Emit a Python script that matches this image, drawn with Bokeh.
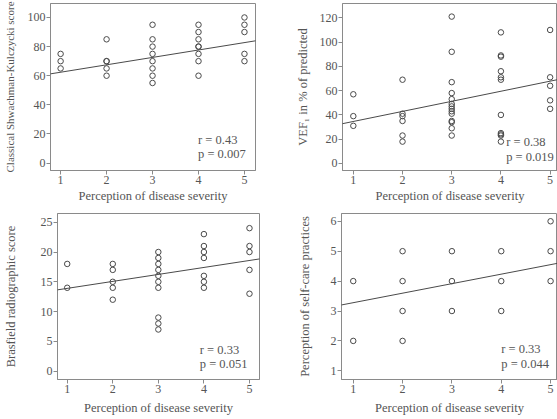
from bokeh.plotting import figure
from bokeh.layouts import column, row
from bokeh.models import Range1d, FixedTicker, Slope, Label
from bokeh.embed import file_html
from bokeh.resources import INLINE

# Perception of disease severity (1-5) paired with each outcome
sk_x = [1, 1, 1, 2, 2, 2, 2, 2, 3, 3, 3, 3, 3, 3, 3, 3, 4, 4, 4, 4, 4, 4, 4, 4, 5, 5, 5, 5, 5]
sk_y = [75, 70, 65, 85, 70, 70, 65, 60, 95, 85, 80, 75, 70, 65, 60, 55, 95, 90, 85, 80, 80, 75, 70, 60, 100, 95, 90, 75, 70]

vef_x = [1, 1, 1,
         2, 2, 2, 2, 2, 2,
         3, 3, 3, 3, 3, 3, 3, 3, 3, 3, 3, 3, 3, 3,
         4, 4, 4, 4, 4, 4, 4, 4, 4, 4, 4,
         5, 5, 5, 5, 5]
vef_y = [57, 39, 31,
         69, 41, 39, 35, 23, 18,
         121, 92, 67, 58, 53, 49, 47, 45, 43, 41, 35, 34, 29, 23,
         108, 89, 88, 76, 71, 69, 40, 25, 24, 23, 18,
         110, 71, 64, 52, 45]

bras_x = [1, 1, 2, 2, 2, 2, 2, 3, 3, 3, 3, 3, 3, 3, 3, 3, 3, 4, 4, 4, 4, 4, 4, 4, 5, 5, 5, 5, 5]
bras_y = [18, 14, 18, 17, 15, 14, 12, 20, 19, 18, 17, 16, 15, 14, 9, 8, 7, 23, 21, 20, 19, 16, 15, 14, 24, 21, 20, 17, 13]

self_x = [1, 1, 2, 2, 2, 2, 3, 3, 3, 4, 4, 4, 5, 5, 5]
self_y = [4, 2, 5, 4, 3, 2, 5, 4, 3, 5, 4, 3, 6, 5, 4]

# fitted regression lines (intercept, slope) and correlation statistics
sk_fit, vef_fit, bras_fit, self_fit = (57.3, 5.09), (26.3, 8.3), (12.73, 1.17), (2.96, 0.318)
sk_stats = ["r = 0.43", "p = 0.007"]
vef_stats = ["r = 0.38", "p = 0.019"]
bras_stats = ["r = 0.33", "p = 0.051"]
self_stats = ["r = 0.33", "p = 0.044"]

x_ticks = [1, 2, 3, 4, 5]
sk_ticks = [0, 20, 40, 60, 80, 100]
vef_ticks = [0, 20, 40, 60, 80, 100, 120]
bras_ticks = [0, 5, 10, 15, 20, 25]
self_ticks = [1, 2, 3, 4, 5, 6]

FONT = "Liberation Serif"
TXT = "#555555"
INK = "#4a4a4a"
FRAME = "#8a8a8a"


def panel(xs, ys, fit, stats, yticks, ylabel, *, w, h, borders, xr, yr,
          ystand, xstand, stat_pos, ylabel_size="12.5px"):
    left, right, top, bottom = borders
    p = figure(width=w, height=h, output_backend="svg", toolbar_location=None,
               x_range=Range1d(*xr), y_range=Range1d(*yr),
               min_border_left=left, min_border_right=right,
               min_border_top=top, min_border_bottom=bottom)
    p.grid.visible = False
    p.outline_line_color = FRAME
    p.outline_line_width = 1
    p.background_fill_color = "white"
    p.border_fill_color = "white"
    for ax in (p.xaxis[0], p.yaxis[0]):
        ax.axis_line_color = FRAME
        ax.major_tick_line_color = FRAME
        ax.major_tick_out = 4
        ax.major_tick_in = 0
        ax.minor_tick_line_color = None
        ax.major_label_text_font = FONT
        ax.major_label_text_font_size = "12px"
        ax.major_label_text_color = TXT
        ax.major_label_standoff = 1
        ax.axis_label_text_font = FONT
        ax.axis_label_text_font_size = "12.5px"
        ax.axis_label_text_font_style = "normal"
        ax.axis_label_text_color = TXT
    p.yaxis.axis_label_text_font_size = ylabel_size
    p.xaxis.ticker = FixedTicker(ticks=x_ticks)
    p.yaxis.ticker = FixedTicker(ticks=yticks)
    p.xaxis.axis_label = "Perception of disease severity"
    p.yaxis.axis_label = ylabel
    p.xaxis.axis_label_standoff = xstand
    p.yaxis.axis_label_standoff = ystand

    p.add_layout(Slope(gradient=fit[1], y_intercept=fit[0],
                       line_color=INK, line_width=1))
    p.scatter(xs, ys, marker="circle", size=5.5, fill_color=None,
              line_color=INK, line_width=1)

    sx, sy = stat_pos
    for txt, yy in zip(stats, sy):
        p.add_layout(Label(x=sx, y=yy, text=txt, text_font=FONT,
                           text_font_size="12.5px", text_color=TXT,
                           text_align="left", text_baseline="middle"))
    return p


p1 = panel(sk_x, sk_y, sk_fit, sk_stats, sk_ticks,
           "Classical Shwachman-Kulczycki score",
           w=278, h=205, borders=(45, 23, 3, 32),
           xr=(0.78, 5.24), yr=(-5.1, 109.6), ystand=9, xstand=2,
           stat_pos=(3.99, (16.0, 5.9)), ylabel_size="11px")

p2 = panel(vef_x, vef_y, vef_fit, vef_stats, vef_ticks,
           "VEF\u2081 in % of predicted",
           w=279, h=205, borders=(64, 0, 1, 32),
           xr=(0.78, 5.15), yr=(-5.8, 131.8), ystand=7, xstand=2,
           stat_pos=(4.107, (17.4, 5.1)))

p3 = panel(bras_x, bras_y, bras_fit, bras_stats, bras_ticks,
           "Brasfield radiographic score",
           w=278, h=214, borders=(45, 19, 8, 40),
           xr=(0.787, 5.22), yr=(-1.39, 26.46), ystand=20, xstand=5,
           stat_pos=(3.91, (3.64, 1.17)))

p4 = panel(self_x, self_y, self_fit, self_stats, self_ticks,
           "Perception of self-care practices",
           w=279, h=214, borders=(63, 0, 7, 40),
           xr=(0.762, 5.14), yr=(0.71, 6.26), ystand=16, xstand=5,
           stat_pos=(4.0, (1.74, 1.22)))

layout = column(row(p1, p2, spacing=0), row(p3, p4, spacing=0), spacing=0)

with open("out.html", "w") as f:
    f.write(file_html(layout, INLINE))
